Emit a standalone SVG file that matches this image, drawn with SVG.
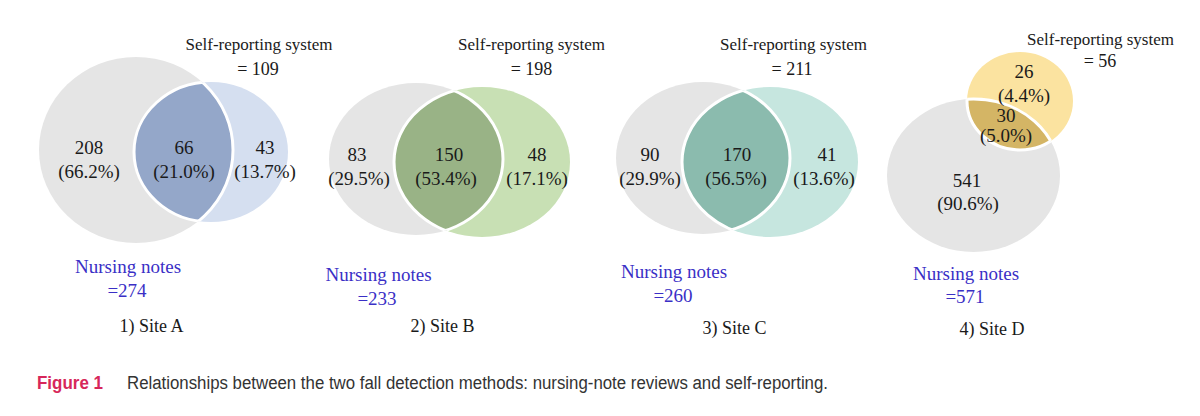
<svg xmlns="http://www.w3.org/2000/svg" width="1200" height="416" viewBox="0 0 1200 416">
<style>
.g{fill:#e5e5e5}
.lw{fill:none;stroke:#ffffff;stroke-width:3}
.t{font-family:"Liberation Serif","Times New Roman",serif;fill:#1a1a1a;text-anchor:middle}
.n{font-size:19px}
.s{font-size:17px}
.e{font-size:18px}
.b{font-family:"Liberation Serif","Times New Roman",serif;fill:#3a2fc6;font-size:19px;text-anchor:middle}
.c{font-family:"Liberation Serif","Times New Roman",serif;fill:#1a1a1a;font-size:18px;text-anchor:middle}
</style>
<defs>
<clipPath id="aG"><ellipse cx="136" cy="150" rx="97" ry="93"/></clipPath>
<clipPath id="aC"><ellipse cx="211" cy="152" rx="77" ry="70"/></clipPath>
<clipPath id="bG"><ellipse cx="416" cy="159" rx="87" ry="76"/></clipPath>
<clipPath id="bC"><ellipse cx="482" cy="162" rx="88" ry="75"/></clipPath>
<clipPath id="cG"><ellipse cx="703" cy="158" rx="87" ry="76"/></clipPath>
<clipPath id="cC"><ellipse cx="770" cy="162" rx="88" ry="75"/></clipPath>
<clipPath id="dG"><ellipse cx="973.5" cy="175.5" rx="86.5" ry="76.5"/></clipPath>
<clipPath id="dC"><ellipse cx="1020" cy="101" rx="53" ry="49"/></clipPath>
</defs>

<g id="siteA">
<ellipse class="g" cx="136" cy="150" rx="97" ry="93"/>
<ellipse cx="211" cy="152" rx="77" ry="70" fill="#d5dff0"/>
<ellipse cx="136" cy="150" rx="97" ry="93" fill="#94a7c9" clip-path="url(#aC)"/>
<ellipse class="lw" cx="136" cy="150" rx="97" ry="93" clip-path="url(#aC)"/>
<ellipse class="lw" cx="211" cy="152" rx="77" ry="70" clip-path="url(#aG)"/>
<text class="t s" x="259" y="50">Self-reporting system</text>
<text class="t e" x="258" y="75">= 109</text>
<text class="t n" x="89" y="154">208</text>
<text class="t n" x="89" y="178">(66.2%)</text>
<text class="t n" x="184" y="154">66</text>
<text class="t n" x="184" y="178">(21.0%)</text>
<text class="t n" x="265" y="154">43</text>
<text class="t n" x="265" y="178">(13.7%)</text>
<text class="b" x="128" y="273">Nursing notes</text>
<text class="b" x="127" y="297">=274</text>
<text class="c" x="151.5" y="332">1) Site A</text>
</g>

<g id="siteB">
<ellipse class="g" cx="416" cy="159" rx="87" ry="76"/>
<ellipse cx="482" cy="162" rx="88" ry="75" fill="#c8e0b4"/>
<ellipse cx="416" cy="159" rx="87" ry="76" fill="#99b386" clip-path="url(#bC)"/>
<ellipse class="lw" cx="416" cy="159" rx="87" ry="76" clip-path="url(#bC)"/>
<ellipse class="lw" cx="482" cy="162" rx="88" ry="75" clip-path="url(#bG)"/>
<text class="t s" x="531.5" y="50">Self-reporting system</text>
<text class="t e" x="531.5" y="75">= 198</text>
<text class="t n" x="357" y="161">83</text>
<text class="t n" x="359" y="185">(29.5%)</text>
<text class="t n" x="449" y="161">150</text>
<text class="t n" x="446" y="185">(53.4%)</text>
<text class="t n" x="537" y="161">48</text>
<text class="t n" x="537" y="185">(17.1%)</text>
<text class="b" x="378.5" y="281">Nursing notes</text>
<text class="b" x="377" y="305">=233</text>
<text class="c" x="442.5" y="332">2) Site B</text>
</g>

<g id="siteC">
<ellipse class="g" cx="703" cy="158" rx="87" ry="76"/>
<ellipse cx="770" cy="162" rx="88" ry="75" fill="#c6e6df"/>
<ellipse cx="703" cy="158" rx="87" ry="76" fill="#8bbbae" clip-path="url(#cC)"/>
<ellipse class="lw" cx="703" cy="158" rx="87" ry="76" clip-path="url(#cC)"/>
<ellipse class="lw" cx="770" cy="162" rx="88" ry="75" clip-path="url(#cG)"/>
<text class="t s" x="793.5" y="50">Self-reporting system</text>
<text class="t e" x="792" y="75">= 211</text>
<text class="t n" x="650" y="161">90</text>
<text class="t n" x="650" y="185">(29.9%)</text>
<text class="t n" x="737" y="161">170</text>
<text class="t n" x="736" y="185">(56.5%)</text>
<text class="t n" x="827" y="161">41</text>
<text class="t n" x="824" y="185">(13.6%)</text>
<text class="b" x="674" y="278">Nursing notes</text>
<text class="b" x="673" y="302">=260</text>
<text class="c" x="734.5" y="334">3) Site C</text>
</g>

<g id="siteD">
<ellipse class="g" cx="973.5" cy="175.5" rx="86.5" ry="76.5"/>
<ellipse cx="1020" cy="101" rx="53" ry="49" fill="#fbe3a0"/>
<ellipse cx="973.5" cy="175.5" rx="86.5" ry="76.5" fill="#d4b565" clip-path="url(#dC)"/>
<ellipse class="lw" cx="973.5" cy="175.5" rx="86.5" ry="76.5" clip-path="url(#dC)"/>
<ellipse class="lw" cx="1020" cy="101" rx="53" ry="49" clip-path="url(#dG)"/>
<text class="t s" x="1100.5" y="45">Self-reporting system</text>
<text class="t e" x="1100" y="67">= 56</text>
<text class="t n" x="1024" y="78">26</text>
<text class="t n" x="1024" y="102">(4.4%)</text>
<text class="t n" x="1006" y="122">30</text>
<text class="t n" x="1006" y="142">(5.0%)</text>
<text class="t n" x="967" y="187">541</text>
<text class="t n" x="968" y="210">(90.6%)</text>
<text class="b" x="966" y="280">Nursing notes</text>
<text class="b" x="965" y="303">=571</text>
<text class="c" x="992" y="335">4) Site D</text>
</g>

<g id="caption" font-family="'Liberation Sans',Arial,sans-serif" font-size="18">
<text x="37" y="389" fill="#d7275a" font-weight="bold" textLength="66" lengthAdjust="spacingAndGlyphs">Figure 1</text>
<text x="127" y="389" fill="#333333" textLength="701" lengthAdjust="spacingAndGlyphs">Relationships between the two fall detection methods: nursing-note reviews and self-reporting.</text>
</g>
</svg>
